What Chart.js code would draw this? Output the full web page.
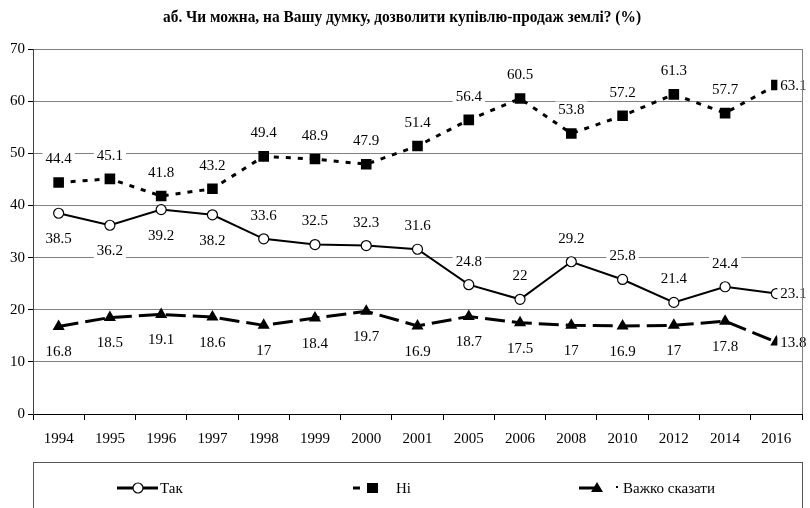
<html>
<head>
<script src="https://cdn.jsdelivr.net/npm/chart.js@4.4.0/dist/chart.umd.min.js"></script>
<style>
  body { margin: 0; background: #fff; }
  .wrap { width: 810px; height: 508px; position: relative; }
</style>
</head>
<body>
<div class="wrap"><canvas id="myChart"></canvas></div>
<script>
  const chartTitle = 'аб. Чи можна, на Вашу думку, дозволити купівлю-продаж землі? (%)';
  const years = ['1994', '1995', '1996', '1997', '1998', '1999', '2000', '2001', '2005', '2006', '2008', '2010', '2012', '2014', '2016'];
  const seriesNames = ['Так', 'Ні', 'Важко сказати'];
  const tak = [38.5, 36.2, 39.2, 38.2, 33.6, 32.5, 32.3, 31.6, 24.8, 22, 29.2, 25.8, 21.4, 24.4, 23.1];
  const ni = [44.4, 45.1, 41.8, 43.2, 49.4, 48.9, 47.9, 51.4, 56.4, 60.5, 53.8, 57.2, 61.3, 57.7, 63.1];
  const vazhko = [16.8, 18.5, 19.1, 18.6, 17, 18.4, 19.7, 16.9, 18.7, 17.5, 17, 16.9, 17, 17.8, 13.8];

  const serif = '"Liberation Serif", "Times New Roman", serif';

  // where the value label goes for each series
  function takPos(i, n) { return i === n - 1 ? 'right' : (i < 4 ? 'below' : 'above'); }
  function niPos(i, n) { return i === n - 1 ? 'right' : 'above'; }
  function vazhkoPos(i, n) { return i === n - 1 ? 'right' : 'below'; }

  const pointLabels = {
    id: 'pointLabels',
    afterDatasetsDraw(chart) {
      const ctx = chart.ctx;
      ctx.save();
      ctx.font = '15px ' + serif;
      ctx.textBaseline = 'middle';
      chart.data.datasets.forEach((ds, i) => {
        const meta = chart.getDatasetMeta(i);
        meta.data.forEach((pt, j) => {
          const txt = String(ds.data[j]);
          const pos = ds.labelPos(j, ds.data.length);
          const w = ctx.measureText(txt).width;
          let x = pt.x, y = pt.y, left;
          if (pos === 'above') y -= 24;
          else if (pos === 'below') y += 25;
          if (pos === 'right') {
            x = pt.x + 4;
            left = x - 3;
            ctx.textAlign = 'left';
          } else {
            left = x - w / 2 - 3;
            ctx.textAlign = 'center';
          }
          ctx.fillStyle = '#fff';
          ctx.fillRect(left, y - 8, w + 6, 17);
          ctx.fillStyle = '#000';
          ctx.fillText(txt, x, y + 1);
        });
      });
      ctx.restore();
    }
  };

  const decor = {
    id: 'decor',
    afterDraw(chart) {
      const ctx = chart.ctx;
      const a = chart.chartArea;
      ctx.save();
      // right border of plot
      ctx.strokeStyle = '#808080';
      ctx.lineWidth = 1;
      ctx.beginPath();
      ctx.moveTo(Math.round(a.right) + 0.5, a.top);
      ctx.lineTo(Math.round(a.right) + 0.5, a.bottom);
      ctx.stroke();

      // title
      ctx.fillStyle = '#000';
      ctx.font = 'bold 16px ' + serif;
      ctx.textAlign = 'center';
      ctx.textBaseline = 'middle';
      ctx.fillText(chartTitle, 402, 18, 478);

      // legend box
      ctx.strokeStyle = '#555';
      ctx.strokeRect(33.5, 462.5, 769, 60);
      const ly = 488;
      ctx.fillStyle = '#000';
      ctx.strokeStyle = '#000';
      ctx.lineWidth = 3;
      ctx.beginPath(); ctx.moveTo(117, ly); ctx.lineTo(158, ly); ctx.stroke();
      ctx.lineWidth = 1.2;
      ctx.beginPath(); ctx.arc(138, ly, 5, 0, Math.PI * 2);
      ctx.fillStyle = '#fff'; ctx.fill(); ctx.stroke();

      ctx.fillStyle = '#000';
      ctx.fillRect(353, ly - 1.5, 7, 3);
      ctx.fillRect(367, ly - 5, 11, 10);

      ctx.lineWidth = 3;
      ctx.beginPath(); ctx.moveTo(579, ly); ctx.lineTo(598, ly); ctx.stroke();
      ctx.beginPath();
      ctx.moveTo(597, ly - 6); ctx.lineTo(603, ly + 4); ctx.lineTo(591, ly + 4); ctx.closePath(); ctx.fill();
      ctx.fillRect(616, ly - 2, 2, 2);

      ctx.font = '15px ' + serif;
      ctx.textAlign = 'left';
      ctx.fillText(seriesNames[0], 160, ly + 1);
      ctx.fillText(seriesNames[1], 396, ly + 1);
      ctx.fillText(seriesNames[2], 623, ly + 1);
      ctx.restore();
    }
  };

  new Chart('myChart', {
    type: 'line',
    data: {
      labels: years,
      datasets: [{
        label: seriesNames[0],
        data: tak,
        labelPos: takPos,
        borderColor: '#000',
        borderWidth: 2,
        pointStyle: 'circle',
        pointRadius: 5,
        pointBackgroundColor: '#fff',
        pointBorderColor: '#000',
        pointBorderWidth: 1.2
      }, {
        label: seriesNames[1],
        data: ni,
        labelPos: niPos,
        borderColor: '#000',
        borderWidth: 3,
        borderDash: [5, 7],
        pointStyle: 'rect',
        pointRadius: 7.5,
        pointBackgroundColor: '#000',
        pointBorderColor: '#000',
        pointBorderWidth: 0
      }, {
        label: seriesNames[2],
        data: vazhko,
        labelPos: vazhkoPos,
        borderColor: '#000',
        borderWidth: 3,
        borderDash: [20, 7],
        pointStyle: 'triangle',
        pointRadius: 7,
        pointBackgroundColor: '#000',
        pointBorderColor: '#000',
        pointBorderWidth: 0
      }]
    },
    options: {
      responsive: true,
      maintainAspectRatio: false,
      animation: false,
      layout: { padding: { top: 49, right: 8, bottom: 54, left: 0 } },
      plugins: {
        legend: { display: false },
        title: { display: false },
        tooltip: { enabled: false }
      },
      scales: {
        x: {
          offset: true,
          grid: { offset: true, drawOnChartArea: false, drawTicks: true, tickLength: 6, color: '#000' },
          border: { color: '#000' },
          ticks: { color: '#000', font: { family: serif, size: 15 }, padding: 10, maxRotation: 0, autoSkip: false },
          afterFit(s) { s.height = 40; }
        },
        y: {
          min: 0,
          max: 70,
          ticks: { stepSize: 10, color: '#000', font: { family: serif, size: 15 }, padding: 3 },
          grid: { color: '#808080', tickColor: '#000', tickLength: 5 },
          border: { color: '#404040' },
          afterFit(s) { s.width = 33; }
        }
      }
    },
    plugins: [pointLabels, decor]
  });
</script>
</body>
</html>
